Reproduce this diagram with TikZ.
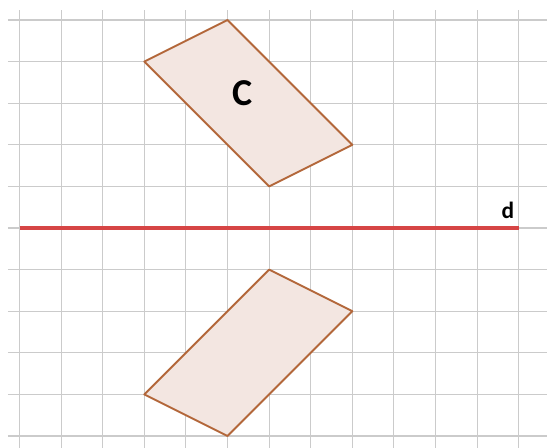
\documentclass[tikz,border=0pt]{standalone}
\usepackage{fontspec}
\setmainfont{Carlito}
\definecolor{gridgray}{HTML}{CBCBCB}
\definecolor{shapeline}{HTML}{B3673A}
\definecolor{shapefill}{HTML}{F3E6E1}
\definecolor{axisred}{HTML}{D64545}
\begin{document}
\begin{tikzpicture}[x=1cm,y=1cm,
	gridline/.style={draw=gridgray,line width=0.7pt},
	quad/.style={draw=shapeline,fill=shapefill,line width=1.3pt,line join=round},
	mirror/.style={draw=axisred,line width=2.4pt},
	tag/.style={font=\bfseries}]
		\useasboundingbox (-0.469,-5.288) rectangle (12.680,5.481);
		% grid
		\foreach \i in {0,...,12}
			\draw[gridline] (\i,-5.3) -- (\i,5.24);
		\foreach \j in {-5,...,5}
			\draw[gridline] (-0.28,\j) -- (12.7,\j);
		% figure C and its image
		\coordinate (c1) at (3,4);
		\coordinate (c2) at (5,5);
		\coordinate (c3) at (8,2);
		\coordinate (c4) at (6,1);
		\coordinate (m1) at (3,-4);
		\coordinate (m2) at (5,-5);
		\coordinate (m3) at (8,-2);
		\coordinate (m4) at (6,-1);
		\filldraw[quad] (c1) -- (c2) -- (c3) -- (c4) -- cycle;
		\filldraw[quad] (m1) -- (m2) -- (m3) -- (m4) -- cycle;
		% line d
		\coordinate (dl) at (0,0);
		\coordinate (dr) at (12,0);
		\draw[mirror] (dl) -- (dr);
		\node[tag,font=\bfseries\fontsize{26}{26}\selectfont] (lblC) at (5.37,3.24) {C};
		\node[tag,font=\bfseries\fontsize{16}{16}\selectfont,anchor=base] (lbld) at (11.74,0.24) {d};
\end{tikzpicture}
\end{document}
